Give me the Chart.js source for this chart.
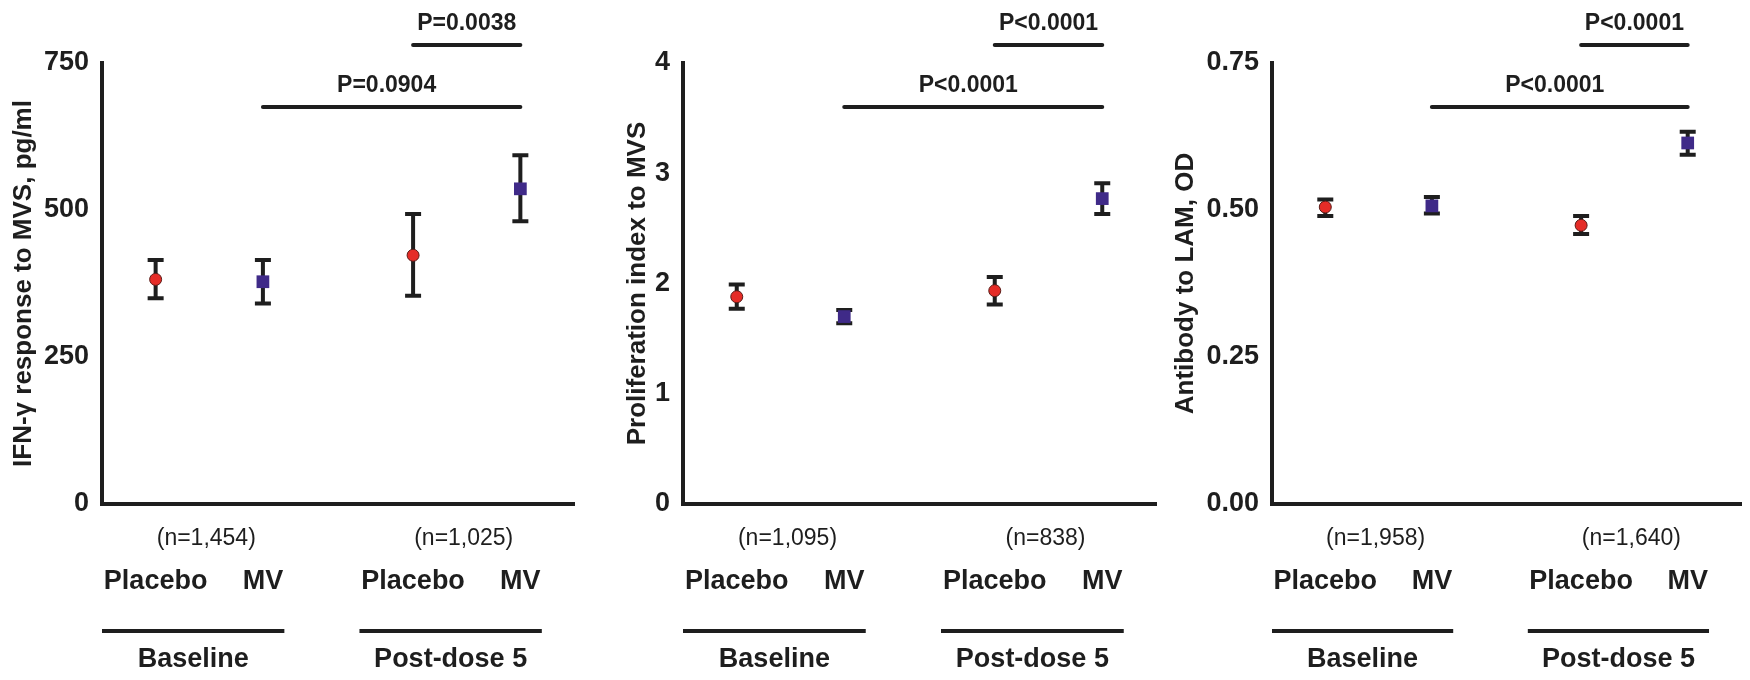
<!DOCTYPE html>
<html>
<head>
<meta charset="utf-8">
<script src="https://cdn.jsdelivr.net/npm/chart.js@4.4.1/dist/chart.umd.min.js"></script>
<style>
  body { margin: 0; background: #fff; }
  #wrap { position: relative; width: 1750px; height: 680px; }
  canvas { position: absolute; top: 0; }
</style>
</head>
<body>
<div id="wrap">
  <canvas id="ifn" width="583" height="680" style="left:0px"></canvas>
  <canvas id="prolif" width="580" height="680" style="left:585px"></canvas>
  <canvas id="lam" width="585" height="680" style="left:1165px"></canvas>
</div>
<script>
// categories
const armLabels = ["Placebo", "MV", "Placebo", "MV"];
const groupLabels = ["Baseline", "Post-dose 5"];

// IFN-gamma response (pg/ml)
const ifnMean = [382, 378, 423, 536];
const ifnLow = [350, 341, 354, 481];
const ifnHigh = [415, 415, 493, 593];
const ifnN = ["(n=1,454)", "(n=1,025)"];
const ifnP = ["P=0.0904", "P=0.0038"];
const ifnTicks = [0, 250, 500, 750];

// proliferation index
const prolifMean = [1.88, 1.70, 1.935, 2.77];
const prolifLow = [1.77, 1.64, 1.81, 2.63];
const prolifHigh = [1.99, 1.76, 2.06, 2.91];
const prolifN = ["(n=1,095)", "(n=838)"];
const prolifP = ["P<0.0001", "P<0.0001"];
const prolifTicks = [0, 1, 2, 3, 4];

// antibody to LAM (OD)
const lamMean = [0.505, 0.507, 0.474, 0.614];
const lamLow = [0.490, 0.494, 0.459, 0.594];
const lamHigh = [0.518, 0.522, 0.490, 0.633];
const lamN = ["(n=1,958)", "(n=1,640)"];
const lamP = ["P<0.0001", "P<0.0001"];
const lamTicks = [0, 0.25, 0.5, 0.75];

// x slots of the four groups on the linear x axis (layout only)
const slots = [0.5, 1.5, 2.9, 3.9];

const ink = "#1e1e1e";
const fam = '"Liberation Sans", Arial, Helvetica, sans-serif';
Chart.defaults.font.family = fam;
Chart.defaults.color = ink;

// error bars, p-value brackets and the text under the x axis
const annotate = {
  id: "annotate",
  beforeDatasetsDraw(chart, args, opts) {
    const { ctx } = chart;
    const xs = chart.scales.x, ys = chart.scales.y;
    ctx.save();
    ctx.strokeStyle = ink;
    ctx.lineWidth = 4;
    opts.low.forEach((lo, i) => {
      const px = xs.getPixelForValue(slots[i]);
      const y1 = ys.getPixelForValue(lo);
      const y2 = ys.getPixelForValue(opts.high[i]);
      ctx.beginPath();
      ctx.moveTo(px, y1); ctx.lineTo(px, y2);
      ctx.moveTo(px - 8, y1); ctx.lineTo(px + 8, y1);
      ctx.moveTo(px - 8, y2); ctx.lineTo(px + 8, y2);
      ctx.stroke();
    });
    ctx.restore();
  },
  afterDraw(chart, args, opts) {
    const { ctx, chartArea } = chart;
    const xs = chart.scales.x;
    const px = (v) => xs.getPixelForValue(v);
    const top = chartArea.top, bottom = chartArea.bottom;
    ctx.save();
    ctx.strokeStyle = ink;
    ctx.fillStyle = ink;
    ctx.lineWidth = 4;
    ctx.lineCap = "round";
    ctx.textAlign = "center";
    ctx.textBaseline = "alphabetic";

    // brackets: MV baseline vs MV post, placebo post vs MV post
    const pairs = [[1, 3], [2, 3]];
    const lineY = [top + 44, top - 18];
    ctx.font = "bold 23px " + fam;
    pairs.forEach((p, k) => {
      const a = px(slots[p[0]]), b = px(slots[p[1]]);
      ctx.beginPath();
      ctx.moveTo(a, lineY[k]); ctx.lineTo(b, lineY[k]);
      ctx.stroke();
      ctx.fillText(opts.pLabels[k], (a + b) / 2 - (k === 0 ? 5 : 0), lineY[k] - 15);
    });

    // n labels
    ctx.font = "23px " + fam;
    opts.nLabels.forEach((t, g) => {
      ctx.fillText(t, px((slots[2 * g] + slots[2 * g + 1]) / 2) - 3, bottom + 41);
    });

    // arm labels
    ctx.font = "bold 27px " + fam;
    armLabels.forEach((t, i) => ctx.fillText(t, px(slots[i]), bottom + 85));

    // group lines and labels
    ctx.lineCap = "butt";
    groupLabels.forEach((t, g) => {
      const a = px(slots[2 * g] - 0.5), b = px(slots[2 * g + 1] + 0.2);
      ctx.beginPath();
      ctx.moveTo(a, bottom + 127); ctx.lineTo(b, bottom + 127);
      ctx.stroke();
      ctx.fillText(t, (a + b) / 2, bottom + 163);
    });
    ctx.restore();
  }
};

function makePanel(id, cfg) {
  const pick = (arr, idx) => idx.map((i) => ({ x: slots[i], y: arr[i] }));
  new Chart(document.getElementById(id), {
    type: "scatter",
    data: {
      datasets: [
        {
          label: "Placebo",
          data: pick(cfg.mean, [0, 2]),
          pointStyle: "circle",
          pointRadius: 6,
          backgroundColor: "#e52c27",
          borderColor: "#5a1c18",
          borderWidth: 1
        },
        {
          label: "MV",
          data: pick(cfg.mean, [1, 3]),
          pointStyle: "rect",
          pointRadius: 9,
          backgroundColor: "#3f2a88",
          borderColor: "#3f2a88",
          borderWidth: 0
        }
      ]
    },
    options: {
      responsive: false,
      animation: false,
      devicePixelRatio: 1,
      layout: { padding: { left: 0, top: 63, right: cfg.padRight, bottom: 176 } },
      plugins: {
        legend: { display: false },
        tooltip: { enabled: false },
        annotate: { low: cfg.low, high: cfg.high, nLabels: cfg.n, pLabels: cfg.p }
      },
      scales: {
        x: {
          type: "linear",
          min: 0,
          max: 4.4,
          grid: { display: false },
          ticks: { display: false },
          border: { display: true, width: 4, color: ink },
          afterFit(s) { s.height = 0; }
        },
        y: {
          min: cfg.ticks[0],
          max: cfg.ticks[cfg.ticks.length - 1],
          afterBuildTicks(s) { s.ticks = cfg.ticks.map((v) => ({ value: v })); },
          grid: { display: false },
          border: { display: true, width: 4, color: ink },
          ticks: {
            padding: 5,
            color: ink,
            font: { size: 27, weight: "bold" },
            callback: (v) => v.toFixed(cfg.decimals)
          },
          title: {
            display: true,
            text: cfg.title,
            color: ink,
            font: { size: 26, weight: "bold" },
            padding: { top: cfg.titlePad, bottom: 0 }
          },
          afterFit(s) { s.width = cfg.axisWidth; }
        }
      }
    },
    plugins: [annotate]
  });
}

makePanel("ifn", {
  mean: ifnMean, low: ifnLow, high: ifnHigh, n: ifnN, p: ifnP, ticks: ifnTicks,
  decimals: 0, title: "IFN-\u03b3 response to MVS, pg/ml",
  axisWidth: 102, padRight: 6, titlePad: 8
});
makePanel("prolif", {
  mean: prolifMean, low: prolifLow, high: prolifHigh, n: prolifN, p: prolifP, ticks: prolifTicks,
  decimals: 0, title: "Proliferation index to MVS",
  axisWidth: 98, padRight: 7, titlePad: 37
});
makePanel("lam", {
  mean: lamMean, low: lamLow, high: lamHigh, n: lamN, p: lamP, ticks: lamTicks,
  decimals: 2, title: "Antibody to LAM, OD",
  axisWidth: 107, padRight: 4, titlePad: 5
});
</script>
</body>
</html>
